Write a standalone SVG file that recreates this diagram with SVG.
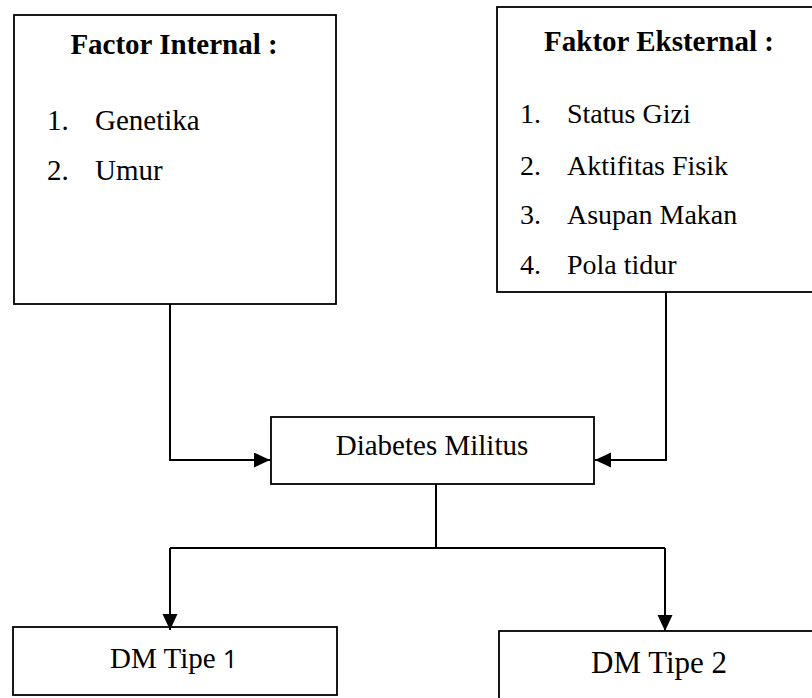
<svg xmlns="http://www.w3.org/2000/svg" width="812" height="698" viewBox="0 0 812 698">
<style>
.box{fill:#fff;stroke:#000;stroke-width:1.8}
.t{font-family:"Liberation Serif","Times New Roman",serif;fill:#000}
.b{font-weight:bold}
.c{fill:none;stroke:#000;stroke-width:2}
</style>
<defs>
<marker id="ah" markerUnits="userSpaceOnUse" markerWidth="17" markerHeight="16" refX="16" refY="7.5" orient="auto">
<path d="M0,0 L16,7.5 L0,15 z" fill="#000"/>
</marker>
</defs>
<rect width="812" height="698" fill="#fff"/>
<g id="internal">
<rect class="box" x="14" y="15" width="322" height="289"/>
<text class="t b" x="174" y="54" font-size="29" text-anchor="middle">Factor Internal :</text>
<text class="t" font-size="29"><tspan x="47" y="130">1.</tspan><tspan x="95" y="130">Genetika</tspan><tspan x="47" y="180">2.</tspan><tspan x="95" y="180">Umur</tspan></text>
</g>
<g id="eksternal">
<rect class="box" x="497" y="7" width="340" height="285"/>
<text class="t b" x="659" y="51" font-size="29" text-anchor="middle">Faktor Eksternal :</text>
<text class="t" font-size="28"><tspan x="520" y="123">1.</tspan><tspan x="567" y="123">Status Gizi</tspan><tspan x="520" y="175">2.</tspan><tspan x="567" y="175">Aktifitas Fisik</tspan><tspan x="520" y="224">3.</tspan><tspan x="567" y="224">Asupan Makan</tspan><tspan x="520" y="274">4.</tspan><tspan x="567" y="274">Pola tidur</tspan></text>
</g>
<g id="diabetes">
<rect class="box" x="271" y="417" width="323" height="67"/>
<text class="t" x="432" y="455" font-size="29" text-anchor="middle">Diabetes Militus</text>
</g>
<g id="tipe1">
<rect class="box" x="13" y="627" width="324" height="68"/>
<text class="t" x="110" y="668" font-size="29">DM Tipe <tspan font-family="'Open Sans','Noto Sans',sans-serif" font-size="26">1</tspan></text>
</g>
<g id="tipe2">
<rect class="box" x="499" y="631" width="340" height="90"/>
<text class="t" x="591" y="673" font-size="31">DM Tipe 2</text>
</g>
<g id="connectors">
<polyline class="c" points="170,304 170,460 270,460" marker-end="url(#ah)"/>
<polyline class="c" points="666,292 666,460 595,460" marker-end="url(#ah)"/>
<line class="c" x1="436" y1="484" x2="436" y2="548"/>
<polyline class="c" points="170,548 665,548"/>
<line class="c" x1="170" y1="548" x2="170" y2="630" marker-end="url(#ah)"/>
<line class="c" x1="665" y1="548" x2="665" y2="631" marker-end="url(#ah)"/>
</g>
</svg>
